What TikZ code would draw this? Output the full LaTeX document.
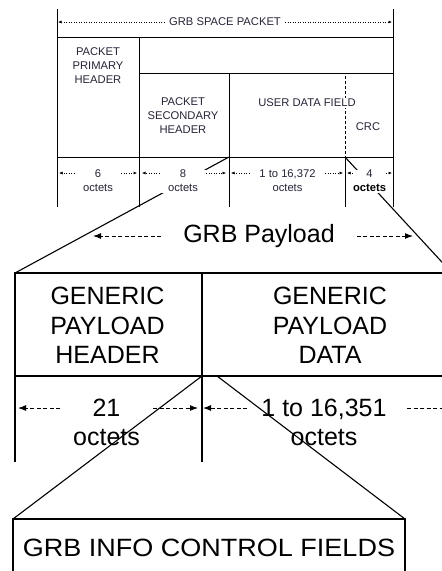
\documentclass[tikz,border=0pt]{standalone}
\usepackage{fontspec}
\setmainfont{Liberation Sans}
\usetikzlibrary{arrows.meta}
\definecolor{toptext}{RGB}{40,35,55}
\begin{document}
\begin{tikzpicture}[x=1pt,y=-1pt,
  thinline/.style={line width=0.8pt},
  thickline/.style={line width=1.6pt},
  expline/.style={line width=1.1pt},
  small/.style={font=\fontsize{11.2}{14}\selectfont, text=toptext, align=center, inner sep=0pt},
  big/.style={font=\fontsize{25}{29.5}\selectfont, align=center, inner sep=0pt},
  octbox/.style={small, fill=white, minimum height=23pt},
  dotarrow/.style={dash pattern=on 1pt off 1.5pt, line width=0.6pt, -{Latex[length=3.5pt,width=3pt]}},
  dasharrow/.style={dash pattern=on 4pt off 2.5pt, line width=1pt, -{Latex[length=8pt,width=6pt]}},
]
\useasboundingbox (0,0) rectangle (442,571);
\clip (0,0) rectangle (442,571);

% ---------- top packet ----------
\coordinate (tl) at (57,9);   \coordinate (tr) at (393,9);
\coordinate (bl) at (57,207); \coordinate (br) at (393,207);
\coordinate (h1l) at (57,37); \coordinate (h1r) at (393,37);
\coordinate (v1t) at (139,37); \coordinate (v1b) at (139,207);
\coordinate (h2l) at (139,73); \coordinate (h2r) at (393,73);
\coordinate (v2t) at (229,73); \coordinate (v2b) at (229,207);
\coordinate (h3l) at (57,157); \coordinate (h3r) at (393,157);
\coordinate (v2m) at (229,157);
\coordinate (v3t) at (345,76); \coordinate (v3m) at (345,157); \coordinate (v3b) at (345,207);

\draw[thinline] (tl) -- (bl);
\draw[thinline] (tr) -- (br);
\draw[thinline] (h1l) -- (h1r);
\draw[thinline] (v1t) -- (v1b);
\draw[thinline] (h2l) -- (h2r);
\draw[thinline] (v2t) -- (v2b);
\draw[thinline] (h3l) -- (h3r);
\draw[thinline, densely dashed] (v3t) -- (v3m);
\draw[thinline] (v3m) -- (v3b);

% expansion lines (drawn before white text boxes)
\coordinate (pbtl) at (15,273);
\coordinate (pbtr) at (452,273);
\draw[expline] (v2m) -- (pbtl);
\draw[expline] (v3m) -- (pbtr);

\node[small, inner xsep=4pt] (title) at (225,22) {GRB SPACE PACKET};
\coordinate (titL) at (58,22); \coordinate (titR) at (392,22);
\draw[dotarrow] (title.west) -- (titL);
\draw[dotarrow] (title.east) -- (titR);

\node[small] (pph) at (98,66) {PACKET\\PRIMARY\\HEADER};
\node[small] (psh) at (183,116) {PACKET\\SECONDARY\\HEADER};
\node[small, fill=white, inner sep=1.5pt] (udf) at (307,103) {USER DATA FIELD};
\node[small] (crc) at (368,127) {CRC};

\node[octbox, minimum width=46pt] (o6) at (98,181) {6\\octets};
\node[octbox, minimum width=46pt] (o8) at (183,181) {8\\octets};
\node[octbox, minimum width=75pt] (o16) at (287.5,181) {1 to 16,372\\octets};
\node[octbox, minimum width=25pt] (o4) at (369.5,181) {4\\\textcolor{black}{\bfseries octets}};

\coordinate (a6l) at (59,173);  \coordinate (a6r) at (137,173);
\coordinate (a8l) at (142,173); \coordinate (a8r) at (226,173);
\coordinate (a16l) at (231,173); \coordinate (a16r) at (343,173);
\coordinate (a4l) at (347,173); \coordinate (a4r) at (392,173);
\draw[dotarrow] (o6.west |- a6l) -- (a6l);
\draw[dotarrow] (o6.east |- a6r) -- (a6r);
\draw[dotarrow] (o8.west |- a8l) -- (a8l);
\draw[dotarrow] (o8.east |- a8r) -- (a8r);
\draw[dotarrow] (o16.west |- a16l) -- (a16l);
\draw[dotarrow] (o16.east |- a16r) -- (a16r);
\draw[dotarrow] (o4.west |- a4l) -- (a4l);
\draw[dotarrow] (o4.east |- a4r) -- (a4r);

% ---------- GRB payload ----------
\node[big, inner xsep=22pt] (payload) at (259,236) {GRB Payload};
\coordinate (plL) at (93,236); \coordinate (plR) at (413,236);
\draw[dasharrow] (payload.west) -- (plL);
\draw[dasharrow] (payload.east) -- (plR);

\coordinate (pbbl) at (15,462);
\coordinate (pmt) at (202,273); \coordinate (pmb) at (202,462);
\coordinate (pml) at (15,376); \coordinate (pmr) at (460,376);
\coordinate (pmm) at (202,376);
\draw[thickline] (pbbl) -- (pbtl) -- (pbtr);
\draw[thickline] (pmt) -- (pmb);
\draw[thickline] (pml) -- (pmr);

\node[big] (gph) at (107.5,325.5) {GENERIC\\PAYLOAD\\HEADER};
\node[big] (gpd) at (330,325.5) {GENERIC\\PAYLOAD\\DATA};

\node[big, font=\fontsize{25}{29}\selectfont] (o21) at (106.5,422.5) {21\\octets};
\node[big, font=\fontsize{25}{29}\selectfont] (o16k) at (324,422.5) {1 to 16,351\\octets};
\coordinate (b21l) at (60,408); \coordinate (b21lt) at (18,408);
\coordinate (b21r) at (153,408); \coordinate (b21rt) at (198,408);
\coordinate (bdl) at (247,408); \coordinate (bdlt) at (203,408);
\coordinate (bdr) at (407,408); \coordinate (bdrt) at (450,408);
\draw[dasharrow] (b21l) -- (b21lt);
\draw[dasharrow] (b21r) -- (b21rt);
\draw[dasharrow] (bdl) -- (bdlt);
\draw[dasharrow] (bdr) -- (bdrt);

% ---------- info control fields ----------
\coordinate (ibtl) at (13,519); \coordinate (ibtr) at (405,519);
\coordinate (ibbl) at (13,575); \coordinate (ibbr) at (405,575);
\coordinate (pmm2) at (217,376);
\draw[expline] (pmm) -- (ibtl);
\draw[expline] (pmm2) -- (ibtr);
\draw[thickline] (ibbl) -- (ibtl) -- (ibtr) -- (ibbr);
\node[big] (gicf) at (209,548) {\scalebox{1.08}[1]{GRB INFO CONTROL FIELDS}};
\end{tikzpicture}
\end{document}
